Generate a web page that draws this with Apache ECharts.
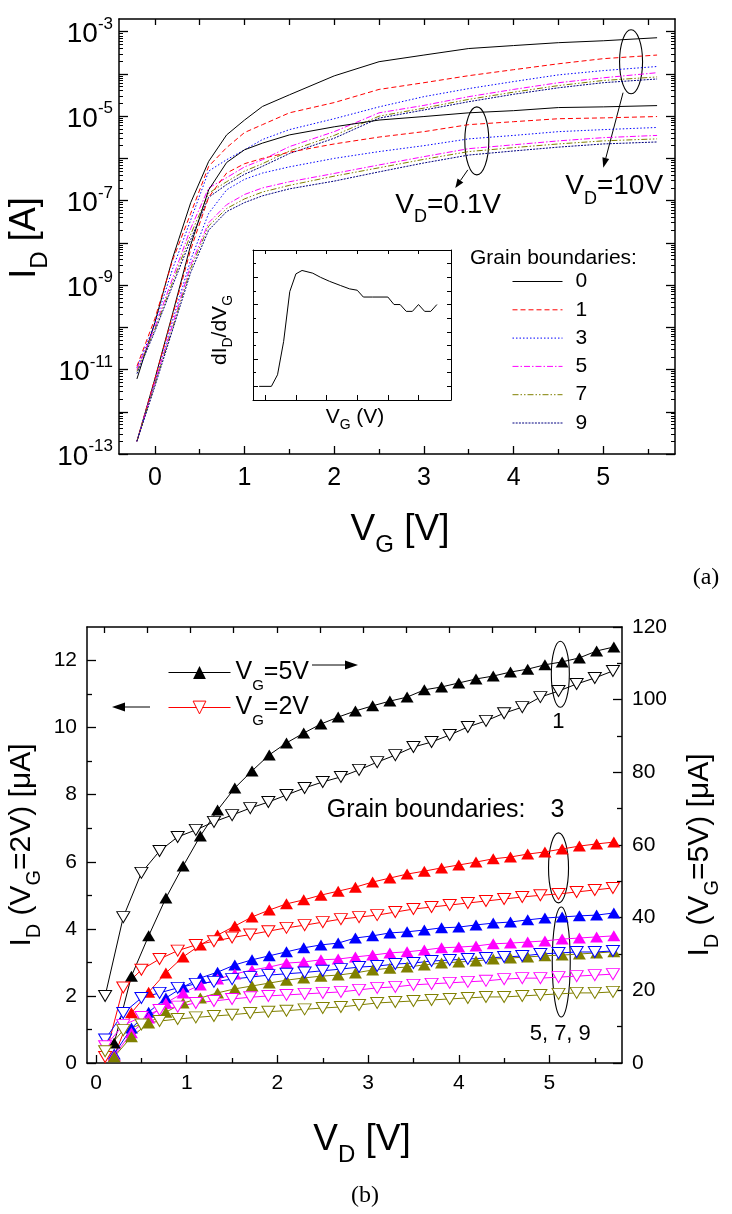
<!DOCTYPE html>
<html>
<head>
<meta charset="utf-8">
<script src="https://cdn.jsdelivr.net/npm/echarts@6/dist/echarts.min.js"></script>
<style>
html, body { margin: 0; padding: 0; background: #fff; }
#main { width: 732px; height: 1214px; }
</style>
</head>
<body>
<div id="main"></div>
<script>
// ---------- (a) transfer curves I_D(V_G) ----------
const vg = [-0.2, 0, 0.2, 0.4, 0.6, 0.8, 1.0, 1.2, 1.5, 2.0, 2.5, 3.0, 3.5, 4.0, 4.5, 5.0, 5.6];
const gbLabels = ['0', '1', '3', '5', '7', '9'];

// V_D = 10 V
const id10_gb0 = [6e-12, 1.3e-10, 4.5e-9, 9e-8, 8.5e-7, 3.6e-6, 8.1e-6, 1.7e-5, 3.2e-5, 9e-5, 1.95e-4, 2.8e-4, 4.0e-4, 4.7e-4, 5.5e-4, 6.1e-4, 7.2e-4];
const id10_gb1 = [1.2e-11, 1.6e-10, 4e-9, 5e-8, 6.5e-7, 1.8e-6, 4.1e-6, 6.3e-6, 1.2e-5, 2.1e-5, 4.3e-5, 6.2e-5, 9.1e-5, 1.26e-4, 1.74e-4, 2.3e-4, 2.8e-4];
const id10_gb3 = [1.1e-11, 1.2e-10, 2.5e-9, 3.5e-8, 5e-7, 9.3e-7, 1.6e-6, 2.8e-6, 4.8e-6, 8.7e-6, 1.66e-5, 2.9e-5, 4.5e-5, 6.6e-5, 9.5e-5, 1.2e-4, 1.5e-4];
const id10_gb5 = [1e-11, 1e-10, 1.5e-9, 2.2e-8, 2e-7, 3.5e-7, 6.3e-7, 9.3e-7, 1.9e-6, 4.3e-6, 1.2e-5, 1.8e-5, 2.9e-5, 4.3e-5, 6.2e-5, 8.1e-5, 1.07e-4];
const id10_gb7 = [9e-12, 9e-11, 1.2e-9, 1.6e-8, 1.5e-7, 2.8e-7, 5e-7, 7.5e-7, 1.5e-6, 3.5e-6, 1.0e-5, 1.55e-5, 2.5e-5, 3.7e-5, 5.3e-5, 7e-5, 8.5e-5];
const id10_gb9 = [8e-12, 8e-11, 1e-9, 1.2e-8, 1.2e-7, 2.4e-7, 4.2e-7, 6.5e-7, 1.3e-6, 3.0e-6, 9e-6, 1.4e-5, 2.2e-5, 3.3e-5, 4.7e-5, 6.2e-5, 7.6e-5];

// V_D = 0.1 V
const id01_gb0 = [2e-13, 6e-12, 2.2e-10, 9e-9, 1.8e-7, 8e-7, 1.6e-6, 2.3e-6, 3.6e-6, 5.6e-6, 8.1e-6, 9.8e-6, 1.2e-5, 1.35e-5, 1.6e-5, 1.66e-5, 1.78e-5];
const id01_gb1 = [2e-13, 6e-12, 2e-10, 7e-9, 1.2e-7, 4.5e-7, 7.5e-7, 1.0e-6, 1.4e-6, 2.2e-6, 3.2e-6, 4.3e-6, 6.3e-6, 7.4e-6, 8.7e-6, 9.1e-6, 9.8e-6];
const id01_gb3 = [2e-13, 5e-12, 1.5e-10, 4e-9, 5e-8, 1.8e-7, 3.2e-7, 4.5e-7, 6.3e-7, 1.0e-6, 1.45e-6, 2.0e-6, 2.9e-6, 3.5e-6, 4.3e-6, 4.8e-6, 5.4e-6];
const id01_gb5 = [2e-13, 5e-12, 1.2e-10, 3e-9, 3e-8, 8e-8, 1.4e-7, 2e-7, 2.8e-7, 4.4e-7, 7e-7, 1.1e-6, 1.7e-6, 2.1e-6, 2.6e-6, 3.1e-6, 3.5e-6];
const id01_gb7 = [2e-13, 4.5e-12, 1e-10, 2.5e-9, 2.5e-8, 6.5e-8, 1.1e-7, 1.6e-7, 2.3e-7, 3.8e-7, 6e-7, 9.5e-7, 1.45e-6, 1.8e-6, 2.2e-6, 2.6e-6, 2.9e-6];
const id01_gb9 = [2e-13, 4e-12, 9e-11, 2e-9, 2e-8, 5.5e-8, 9e-8, 1.3e-7, 1.9e-7, 2.9e-7, 4.8e-7, 7.8e-7, 1.2e-6, 1.5e-6, 1.85e-6, 2.2e-6, 2.45e-6];

// inset: dI_D/dV_G (arbitrary units)
const insetVg = [-0.2, 0.2, 0.4, 0.6, 0.8, 1.0, 1.2, 1.55, 1.8, 2.1, 2.45, 2.75, 3.0, 3.2, 3.5, 4.0, 4.2, 4.4, 4.6, 4.8, 5.0, 5.2, 5.4, 5.6];
const insetSlope = [1.0, 1.0, 1.85, 4.3, 7.95, 9.25, 9.5, 9.3, 9.0, 8.7, 8.4, 8.15, 8.05, 7.55, 7.55, 7.55, 7.0, 7.0, 6.5, 6.5, 7.0, 6.5, 6.5, 7.0];

// axis ticks of (a)
const vgTickLabels = [0, 1, 2, 3, 4, 5];
const idExpLabels = [-13, -11, -9, -7, -5, -3];

// ---------- (b) output curves I_D(V_D) ----------
const vd2V = [0.1, 0.3, 0.5, 0.7, 0.9, 1.1, 1.3, 1.5, 1.7, 1.9, 2.1, 2.3, 2.5, 2.7, 2.9, 3.1, 3.3, 3.5, 3.7, 3.9, 4.1, 4.3, 4.5, 4.7, 4.9, 5.1, 5.3, 5.5, 5.7];
const vd5V = [0.2, 0.39, 0.58, 0.77, 0.96, 1.15, 1.34, 1.53, 1.72, 1.91, 2.1, 2.29, 2.48, 2.67, 2.86, 3.05, 3.24, 3.43, 3.62, 3.81, 4.0, 4.19, 4.38, 4.57, 4.76, 4.95, 5.14, 5.33, 5.52, 5.71];

// V_G = 2 V, left axis [uA]
const i2V_gb1 = [2.0, 4.35, 5.67, 6.32, 6.74, 6.95, 7.19, 7.39, 7.60, 7.78, 7.99, 8.20, 8.38, 8.53, 8.74, 8.97, 9.18, 9.42, 9.57, 9.78, 10.02, 10.2, 10.43, 10.61, 10.91, 11.09, 11.3, 11.48, 11.69];
const i2V_gb3 = [0.18, 2.25, 2.78, 3.10, 3.35, 3.52, 3.63, 3.74, 3.83, 3.93, 4.03, 4.11, 4.20, 4.29, 4.35, 4.41, 4.50, 4.59, 4.65, 4.71, 4.77, 4.83, 4.89, 4.95, 5.00, 5.04, 5.10, 5.16, 5.22];
const i2V_gb5 = [0.7, 1.49, 1.94, 2.09, 2.24, 2.36, 2.42, 2.50, 2.56, 2.62, 2.66, 2.70, 2.75, 2.80, 2.86, 2.89, 2.95, 2.98, 3.04, 3.07, 3.10, 3.13, 3.16, 3.19, 3.25, 3.28, 3.31, 3.31, 3.34];
const i2V_gb7 = [0.5, 1.13, 1.37, 1.58, 1.68, 1.79, 1.85, 1.91, 1.96, 2.0, 2.03, 2.06, 2.09, 2.12, 2.18, 2.24, 2.27, 2.33, 2.36, 2.39, 2.42, 2.45, 2.50, 2.53, 2.53, 2.56, 2.59, 2.62, 2.65];
const i2V_gb9 = [0.35, 0.98, 1.15, 1.25, 1.31, 1.36, 1.40, 1.44, 1.49, 1.53, 1.56, 1.60, 1.64, 1.67, 1.73, 1.79, 1.82, 1.85, 1.88, 1.91, 1.94, 1.97, 1.97, 2.0, 2.03, 2.06, 2.09, 2.09, 2.12];

// V_G = 5 V, right axis [uA]
const i5V_gb1 = [5.5, 23.9, 35.0, 45.4, 54.2, 62.5, 69.6, 75.7, 80.4, 84.8, 88.1, 90.8, 93.3, 95.2, 96.9, 98.3, 99.6, 100.7, 102.7, 103.5, 104.6, 105.7, 106.5, 107.6, 108.4, 109.6, 110.4, 111.5, 113.4, 114.5];
const i5V_gb3 = [2.0, 13.8, 19.5, 24.8, 29.2, 32.5, 35.2, 37.7, 40.2, 42.1, 43.8, 44.9, 46.2, 47.3, 48.4, 49.8, 50.9, 52.0, 52.8, 53.7, 54.5, 55.3, 56.2, 56.7, 57.5, 58.1, 58.9, 59.7, 60.3, 60.8];
const i5V_gb5 = [2.5, 9.6, 14.0, 17.9, 20.9, 23.4, 25.0, 27.0, 28.4, 29.5, 30.6, 31.7, 32.5, 33.0, 34.4, 35.0, 35.8, 36.1, 36.6, 37.2, 37.4, 38.0, 38.5, 38.8, 39.4, 39.9, 40.2, 40.5, 40.7, 41.3];
const i5V_gb7 = [2.0, 8.3, 12.4, 16.5, 19.3, 21.5, 23.1, 24.5, 25.6, 26.4, 27.5, 27.8, 28.4, 28.6, 29.2, 29.7, 30.3, 30.6, 31.1, 31.7, 31.9, 32.2, 32.8, 33.0, 33.3, 33.6, 34.1, 34.4, 34.7, 35.0];
const i5V_gb9 = [1.7, 7.2, 11.0, 14.0, 16.5, 17.9, 19.3, 20.4, 21.2, 22.0, 22.8, 23.4, 23.9, 24.2, 24.8, 25.6, 26.1, 26.4, 27.0, 27.5, 27.8, 28.1, 28.6, 28.9, 29.2, 29.5, 29.7, 30.0, 30.3, 30.6];

// axis ticks of (b)
const vdTickLabels = [0, 1, 2, 3, 4, 5];
const leftTickLabels = [0, 2, 4, 6, 8, 10, 12];
const rightTickLabels = [0, 20, 40, 60, 80, 100, 120];

// ---------- styling ----------
const SANS = '"Liberation Sans", Arial, Helvetica, sans-serif';
const SERIF = '"Liberation Serif", "Times New Roman", serif';
const INK = '#000';
const gbColors = ['#000000', '#ff0000', '#0000ff', '#ff00ff', '#808000', '#000080'];
const gbDashes = ['solid', [5, 3], [1.5, 2], [6, 2, 1.5, 2], [6, 2, 1.5, 2, 1.5, 2], [2, 1.2]];
const outColors = ['#000000', '#ff0000', '#0000ff', '#ff00ff', '#808000'];

function steps(a, b, s) {
  const out = [];
  for (let v = a; v <= b + 1e-9; v += s) out.push(+v.toFixed(6));
  return out;
}

const expMax = Math.log10(2e-3);
const decades = steps(-13, -3, 1);
const decadeMinor = [];
for (let k = -13; k <= -3; k++) {
  for (let m = 2; m <= 9; m++) {
    const e = k + Math.log10(m);
    if (e < expMax) decadeMinor.push(e);
  }
}

const noSplit = { show: false };
function line(show, w) {
  return show ? { show: true, onZero: false, lineStyle: { color: INK, width: w } } : { show: false, onZero: false };
}
function ticks(values, len, w) {
  return { show: true, inside: true, length: len, customValues: values, lineStyle: { color: INK, width: w || 1 } };
}
function plainLabels(values, size, margin) {
  return { show: true, customValues: values, fontSize: size, fontFamily: SANS, color: INK, margin };
}
const noLabel = { show: false };

function axis(gridIndex, position, min, max, opts) {
  return Object.assign({
    type: 'value', gridIndex, position, min, max,
    splitLine: noSplit, axisLabel: noLabel, axisLine: line(false)
  }, opts);
}

// ---------- axes ----------
const xAxes = [
  // (a) main
  axis(0, 'bottom', -0.4, 5.8, { axisLine: line(true, 1.5), axisTick: ticks(vgTickLabels, 8, 1.3), axisLabel: plainLabels(vgTickLabels, 25, 12) }),
  axis(0, 'bottom', -0.4, 5.8, { axisTick: ticks(steps(0.5, 5.5, 1), 5, 1.3) }),
  axis(0, 'top', -0.4, 5.8, { axisLine: line(true, 1.5), axisTick: ticks(steps(0, 5.5, 0.5), 6, 1.3) }),
  // (a) inset
  axis(1, 'bottom', -0.4, 6.06, { axisLine: line(true, 1), axisTick: ticks(steps(0, 5, 1), 5) }),
  axis(1, 'top', -0.4, 6.06, { axisLine: line(true, 1), axisTick: ticks(steps(0, 5, 1), 4) }),
  // (b)
  axis(2, 'bottom', -0.1, 5.8, { axisLine: line(true, 1.5), axisTick: ticks(vdTickLabels, 8, 1.3), axisLabel: plainLabels(vdTickLabels, 21, 10) }),
  axis(2, 'bottom', -0.1, 5.8, { axisTick: ticks(steps(0.5, 5.5, 1), 5, 1.3) }),
  axis(2, 'top', -0.2, 6.0, { axisLine: line(true, 1.5), axisTick: ticks(steps(0, 5.5, 0.5), 6, 1.3) })
];

const expRich = {
  b: { fontSize: 28, fontFamily: SANS, color: INK, padding: [6, 0, 0, 0] },
  e: { fontSize: 17, fontFamily: SANS, color: INK, padding: [0, 0, 15, 0] }
};

const yAxes = [
  // 0: (a) current, log scale, carries the curves
  { type: 'log', logBase: 10, gridIndex: 0, position: 'left', min: 1e-13, max: 2e-3,
    axisLine: line(true, 1.5), axisTick: { show: false }, axisLabel: noLabel, splitLine: noSplit },
  // 1-4: decade and sub-decade ticks of log10(I_D)
  axis(0, 'left', -13, expMax, {
    axisTick: ticks(decades, 9, 1.3),
    axisLabel: { show: true, customValues: idExpLabels, margin: 6, formatter: v => '{b|10}{e|' + v + '}', rich: expRich }
  }),
  axis(0, 'left', -13, expMax, { axisTick: ticks(decadeMinor, 4) }),
  axis(0, 'right', -13, expMax, { axisLine: line(true, 1.5), axisTick: ticks(decades, 9, 1.3) }),
  axis(0, 'right', -13, expMax, { axisTick: ticks(decadeMinor, 4) }),
  // 5-7: inset
  axis(1, 'left', 0, 11, { axisLine: line(true, 1), axisTick: ticks([1, 3, 5, 7, 9], 5) }),
  axis(1, 'left', 0, 11, { axisTick: ticks([2, 4, 6, 8, 10], 3) }),
  axis(1, 'right', 0, 11, { axisLine: line(true, 1), axisTick: ticks(steps(1, 10, 1), 4) }),
  // 8-11: (b)
  axis(2, 'left', 0, 13, { axisLine: line(true, 1.5), axisTick: ticks(leftTickLabels, 9, 1.3), axisLabel: plainLabels(leftTickLabels, 21, 10) }),
  axis(2, 'left', 0, 13, { axisTick: ticks(steps(1, 11, 2), 5, 1.3) }),
  axis(2, 'right', 0, 120, { axisLine: line(true, 1.5), axisTick: ticks(rightTickLabels, 9, 1.3), axisLabel: plainLabels(rightTickLabels, 21, 10) }),
  axis(2, 'right', 0, 120, { axisTick: ticks(steps(10, 110, 20), 5, 1.3) })
];

// ---------- series ----------
const series = [];
const upperSets = [id10_gb0, id10_gb1, id10_gb3, id10_gb5, id10_gb7, id10_gb9];
const lowerSets = [id01_gb0, id01_gb1, id01_gb3, id01_gb5, id01_gb7, id01_gb9];
[upperSets, lowerSets].forEach(sets => {
  sets.forEach((arr, k) => {
    series.push({
      type: 'line', name: gbLabels[k], xAxisIndex: 0, yAxisIndex: 0,
      data: vg.map((x, i) => [x, arr[i]]),
      symbol: 'none', smooth: false,
      lineStyle: { color: gbColors[k], width: 1, type: gbDashes[k] },
      itemStyle: { color: gbColors[k] },
      silent: true
    });
  });
});

series.push({
  type: 'line', name: 'dI/dV', xAxisIndex: 3, yAxisIndex: 5,
  data: insetVg.map((x, i) => [x, insetSlope[i]]),
  symbol: 'none', lineStyle: { color: INK, width: 1 }, silent: true
});

const set5V = [i5V_gb1, i5V_gb3, i5V_gb5, i5V_gb7, i5V_gb9];
const set2V = [i2V_gb1, i2V_gb3, i2V_gb5, i2V_gb7, i2V_gb9];

function outputSeries(name, xs, ys, yAxisIndex, color, filled) {
  return {
    type: 'line', name, xAxisIndex: 5, yAxisIndex,
    data: xs.map((x, i) => [x, ys[i]]),
    symbol: 'triangle', symbolSize: [13, 11], symbolRotate: filled ? 0 : 180,
    showAllSymbol: true,
    itemStyle: filled ? { color } : { color: '#ffffff', borderColor: color, borderWidth: 1 },
    lineStyle: { color, width: 1 },
    silent: true
  };
}
// the legend takes its sample from the first series of each name
set5V.forEach((arr, k) => series.push(outputSeries('V_G=5V', vd5V, arr, 10, outColors[k], true)));
[1, 0, 2, 3, 4].forEach(k => series.push(outputSeries('V_G=2V', vd2V, set2V[k], 8, outColors[k], false)));

// ---------- legends ----------
const subRich = (size, pad) => ({ s: { fontSize: size, fontFamily: SANS, color: INK, padding: [pad, 0, 0, 0] } });
const legendSub = name => name.replace(/_(\w)/g, '{s|$1}');

const legends = [
  { data: gbLabels, orient: 'vertical', left: 507, top: 266, itemWidth: 50, itemHeight: 20, itemGap: 7.3,
    selectedMode: false, itemStyle: { opacity: 0 }, lineStyle: { width: 1 },
    textStyle: { fontSize: 21, fontFamily: SANS, color: INK, padding: [0, 0, 0, 8] } },
  { data: ['V_G=5V'], left: 163, top: 655, itemWidth: 62, itemHeight: 16, selectedMode: false,
    formatter: legendSub, lineStyle: { width: 1 },
    textStyle: { fontSize: 25, fontFamily: SANS, color: INK, rich: subRich(15, 26) } },
  { data: ['V_G=2V'], left: 163, top: 690, itemWidth: 62, itemHeight: 16, selectedMode: false,
    formatter: legendSub, lineStyle: { width: 1 }, itemStyle: { borderWidth: 1 },
    textStyle: { fontSize: 25, fontFamily: SANS, color: INK, rich: subRich(15, 26) } }
];

const option = {
  animation: false,
  backgroundColor: '#ffffff',
  textStyle: { fontFamily: SANS },
  grid: [
    { left: 119, top: 19, width: 556, height: 435, outerBoundsMode: 'none' },
    { left: 253, top: 250, width: 198, height: 150, outerBoundsMode: 'none', show: true, backgroundColor: '#fff', borderWidth: 0 },
    { left: 87, top: 627, width: 535, height: 436, outerBoundsMode: 'none' }
  ],
  xAxis: xAxes,
  yAxis: yAxes,
  legend: legends,
  series
};

const chart = echarts.init(document.getElementById('main'), null, { renderer: 'canvas' });
chart.setOption(option);

// ---------- titles and annotations ----------
function text(str, x, y, size, subSize, subPad, opts) {
  return Object.assign({
    type: 'text', x, y, silent: true,
    style: {
      text: str.replace(/_(\w)/g, '{s|$1}'),
      fontSize: size, fontFamily: SANS, fill: INK, align: 'center', verticalAlign: 'middle',
      rich: { s: { fontSize: subSize, fontFamily: SANS, fill: INK, padding: [subPad, 0, 0, 0] } }
    }
  }, opts || {});
}
function alignText(el, align) { el.style.align = align; return el; }

function arrow(x1, y1, x2, y2, head, halfW) {
  const a = Math.atan2(y2 - y1, x2 - x1);
  const bx = x2 - head * Math.cos(a), by = y2 - head * Math.sin(a);
  const nx = -Math.sin(a) * halfW, ny = Math.cos(a) * halfW;
  return [
    { type: 'line', silent: true, shape: { x1, y1, x2: bx, y2: by }, style: { stroke: INK, lineWidth: 1 } },
    { type: 'polygon', silent: true, shape: { points: [[x2, y2], [bx + nx, by + ny], [bx - nx, by - ny]] }, style: { fill: INK } }
  ];
}
function ellipse(c, rx, ry) {
  return { type: 'ellipse', silent: true, shape: { cx: c[0], cy: c[1], rx, ry }, style: { fill: null, stroke: INK, lineWidth: 1.1 } };
}

const toA = pt => chart.convertToPixel({ xAxisIndex: 0, yAxisIndex: 0 }, pt);
const toB = pt => chart.convertToPixel({ xAxisIndex: 5, yAxisIndex: 10 }, pt);

const g = [];
// axis titles
g.push(text('V_G [V]', 400, 530, 37, 24, 30));
g.push(text('I_D [A]', 25, 238, 36, 24, 30, { rotation: Math.PI / 2 }));
g.push(text('V_D [V]', 362, 1140, 37, 24, 30));
g.push(text('I_D (V_G=2V) [\u03bcA]', 22, 845, 30, 20, 24, { rotation: Math.PI / 2 }));
g.push(text('I_D (V_G=5V) [\u03bcA]', 700, 855, 30, 20, 24, { rotation: Math.PI / 2 }));
g.push({ type: 'text', x: 706, y: 578, silent: true, style: { text: '(a)', fontSize: 24, fontFamily: SERIF, fill: INK, align: 'center', verticalAlign: 'middle' } });
g.push({ type: 'text', x: 365, y: 1196, silent: true, style: { text: '(b)', fontSize: 24, fontFamily: SERIF, fill: INK, align: 'center', verticalAlign: 'middle' } });

// inset titles
g.push(text('dI_D/dV_G', 220, 330, 21, 14, 16, { rotation: Math.PI / 2 }));
g.push(text('V_G (V)', 355, 417, 21, 14, 16));

// legend heading
g.push(alignText(text('Grain boundaries:', 470, 258, 21, 14, 0), 'left'));

// V_D groups in (a)
const e10 = toA([5.31, 1.95e-4]);
const tip10 = toA([5.0, 6e-7]);
g.push(ellipse(e10, 11.5, 32));
g.push(...arrow(e10[0] - 8, e10[1] + 31, tip10[0], tip10[1], 10, 3.5));
g.push(alignText(text('V_D=10V', tip10[0] - 38, tip10[1] + 19, 28, 18, 24), 'left'));

const e01 = toA([3.59, 2.6e-6]);
const tip01 = toA([3.35, 2e-7]);
g.push(ellipse(e01, 12, 34));
g.push(...arrow(e01[0] - 9, e01[1] + 29, tip01[0], tip01[1], 9, 3.5));
g.push(alignText(text('V_D=0.1V', tip01[0] - 60, tip01[1] + 17, 28, 18, 24), 'left'));

// grain-boundary groups in (b)
const c1 = toB([5.12, 107]);
g.push(ellipse(c1, 9, 33));
g.push(text('1', c1[0] - 2, c1[1] + 48, 22, 14, 0));
const c3 = toB([5.1, 53.7]);
g.push(ellipse(c3, 10, 35));
g.push(text('3', c3[0] - 1, c3[1] - 58, 25, 14, 0));
g.push(alignText(text('Grain boundaries:', c3[0] - 33, c3[1] - 58, 25, 14, 0), 'right'));
const c579 = toB([5.13, 27.8]);
g.push(ellipse(c579, 9, 55));
g.push(text('5, 7, 9', c579[0] - 1, c579[1] + 72, 22, 14, 0));

// axis pointers next to the (b) legend
g.push(...arrow(312, 665, 358, 665, 13, 4.5));
g.push(...arrow(150, 707, 112, 707, 13, 4.5));

chart.setOption({ graphic: g });
</script>
</body>
</html>
